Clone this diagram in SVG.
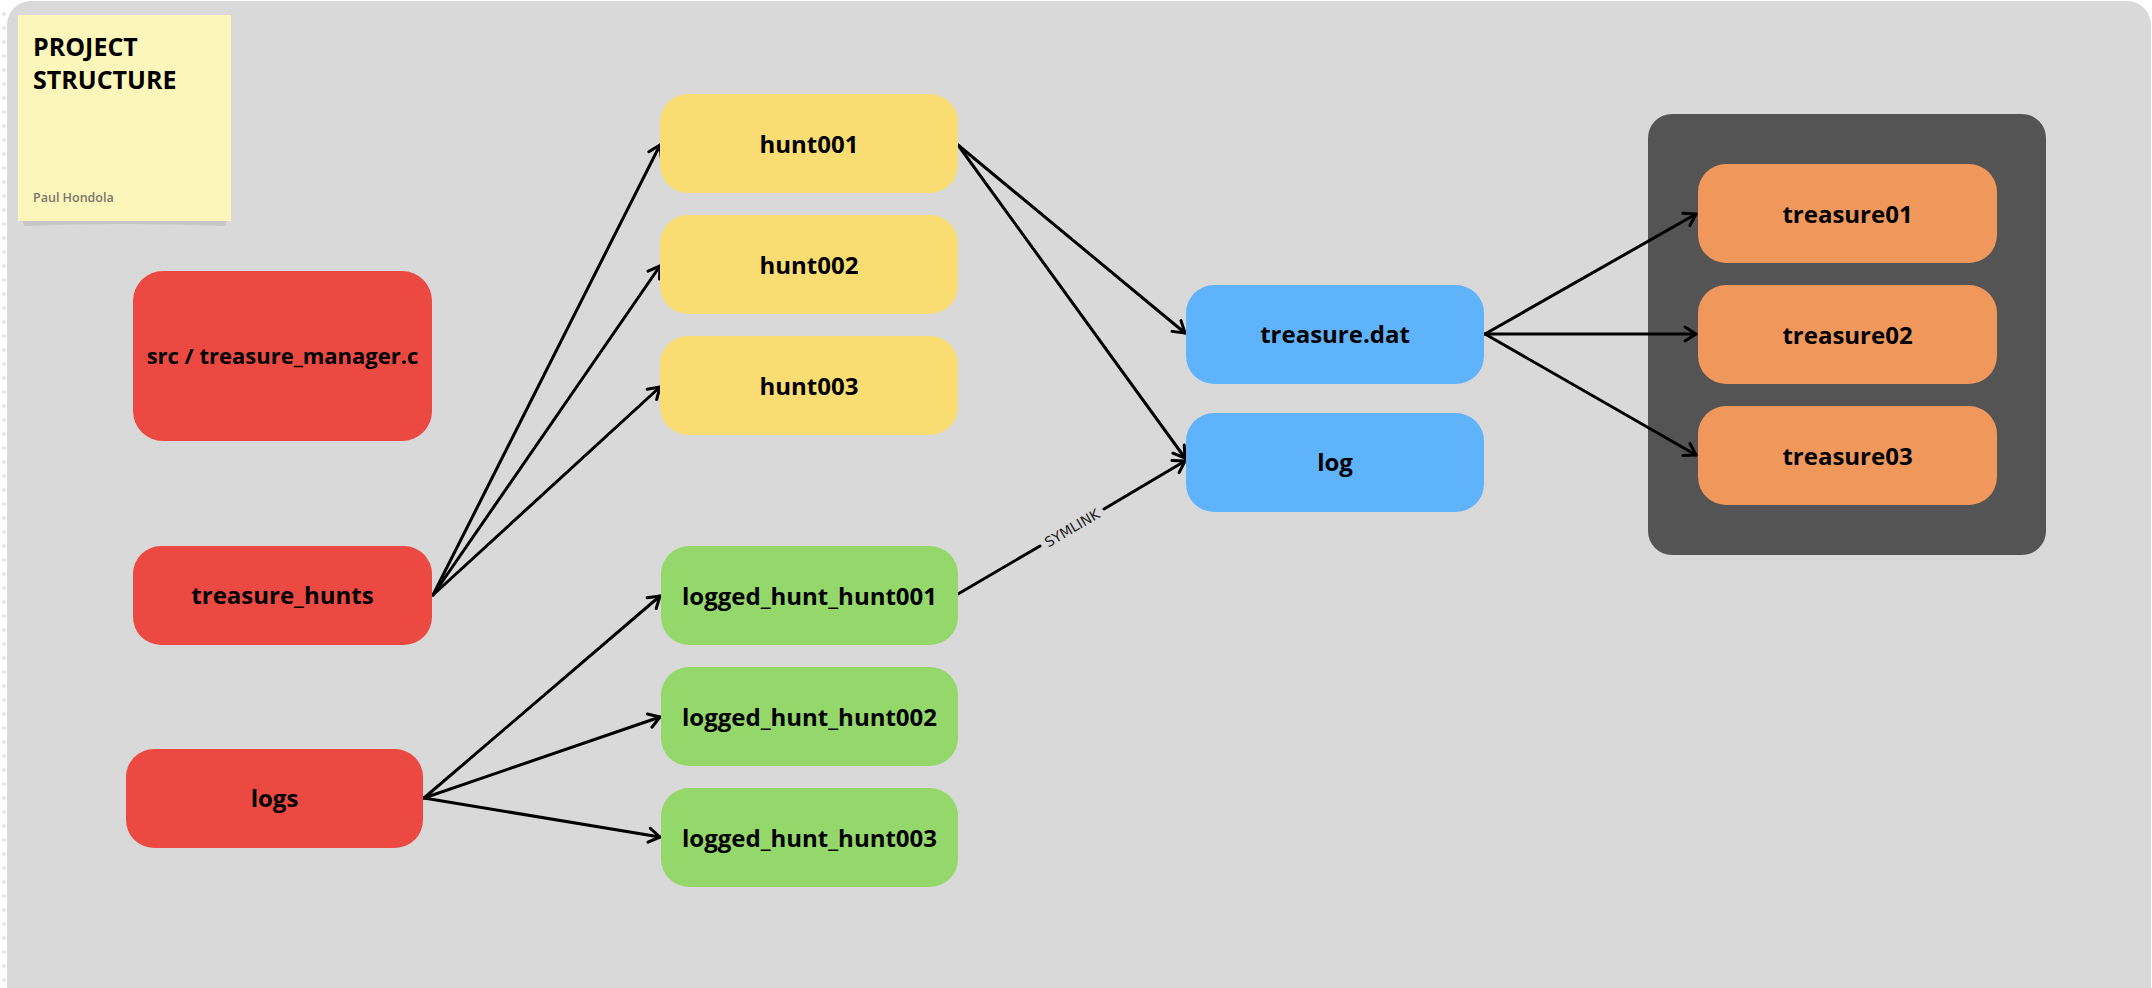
<svg xmlns="http://www.w3.org/2000/svg" width="2152" height="988" viewBox="0 0 2152 988">
  <style>
    .lbl { font-family: "Open Sans", "Liberation Sans", sans-serif; font-weight: 700; font-size: 24px; fill: #000; text-anchor: middle; }
    .lbl.wide { font-size: 22px; }
    .red { fill: #ec4942; }
    .yellow { fill: #f9dd72; }
    .green { fill: #94d86b; }
    .blue { fill: #5eb3fb; }
    .orange { fill: #f0975b; }
    .edge { fill: none; stroke: #000; stroke-width: 3; stroke-linecap: round; }
    .edge-arrow { marker-end: url(#arrow); }
  </style>
  <defs>
    <marker id="arrow" viewBox="-14 -10 17 20" refX="0" refY="0" markerWidth="17" markerHeight="20" markerUnits="userSpaceOnUse" orient="auto">
      <path d="M-11,-7 L0,0 L-11,7" fill="none" stroke="#000" stroke-width="3" stroke-linecap="round" stroke-linejoin="round"/>
    </marker>
  </defs>

  <!-- page -->
  <rect x="0" y="0" width="2152" height="988" fill="#ffffff"/>
  <line x1="4" y1="14" x2="4" y2="988" stroke="#e6e6ec" stroke-width="4" stroke-linecap="round" stroke-dasharray="0 14"/>
  <rect x="7" y="1" width="2144" height="1010" rx="24" fill="#d9d9d9"/>

  <!-- sticky note -->
  <g id="note">
    <path d="M22,218 L227,218 L225,226 Q124,222 24,226 Z" fill="#c6c6c6"/>
    <rect x="18" y="15" width="213" height="206" fill="#fdf6ba"/>
    <text x="33" y="56" font-family="'Open Sans', 'Liberation Sans', sans-serif" font-weight="700" font-size="25" fill="#000">PROJECT</text>
    <text x="33" y="89" font-family="'Open Sans', 'Liberation Sans', sans-serif" font-weight="700" font-size="25" fill="#000">STRUCTURE</text>
    <text x="33" y="202" font-family="'Open Sans', 'Liberation Sans', sans-serif" font-weight="600" font-size="12.5" fill="#77776e">Paul Hondola</text>
  </g>

  <!-- folder holding the treasure records -->
  <g id="treasure-group">
    <rect x="1648" y="114" width="398" height="441" rx="24" fill="#545454"/>
  </g>

  <!-- connectors -->
  <g id="connectors">
    <line class="edge edge-arrow" x1="433" y1="595" x2="660" y2="145"/>
    <line class="edge edge-arrow" x1="433" y1="595" x2="660" y2="266"/>
    <line class="edge edge-arrow" x1="433" y1="595" x2="660" y2="387"/>
    <line class="edge edge-arrow" x1="424" y1="798" x2="660" y2="596"/>
    <line class="edge edge-arrow" x1="424" y1="798" x2="660" y2="717"/>
    <line class="edge edge-arrow" x1="424" y1="798" x2="660" y2="837"/>
    <line class="edge edge-arrow" x1="958" y1="145" x2="1185" y2="333"/>
    <line class="edge edge-arrow" x1="958" y1="145" x2="1185" y2="458"/>
    <line class="edge" x1="958" y1="594" x2="1040" y2="546"/>
    <line class="edge edge-arrow" x1="1104" y1="509" x2="1185" y2="461"/>
    <text x="1072" y="528" transform="rotate(-30.3 1072 528)" font-family="'DejaVu Sans', sans-serif" font-size="14" fill="#222" text-anchor="middle" dominant-baseline="central">SYMLINK</text>
    <line class="edge edge-arrow" x1="1485" y1="334" x2="1696" y2="214"/>
    <line class="edge edge-arrow" x1="1485" y1="334" x2="1696" y2="334"/>
    <line class="edge edge-arrow" x1="1485" y1="334" x2="1696" y2="455"/>
  </g>

  <!-- top-level entries -->
  <g id="src-treasure-manager">
    <rect class="red" x="133" y="271" width="299" height="170" rx="30"/>
    <text class="lbl wide" x="282.5" y="364">src / treasure_manager.c</text>
  </g>
  <g id="treasure-hunts">
    <rect class="red" x="133" y="546" width="299" height="99" rx="28"/>
    <text class="lbl" x="282.5" y="604">treasure_hunts</text>
  </g>
  <g id="logs">
    <rect class="red" x="126" y="749" width="297" height="99" rx="28"/>
    <text class="lbl" x="274.5" y="807">logs</text>
  </g>

  <!-- hunts -->
  <g id="hunt001">
    <rect class="yellow" x="660" y="94" width="298" height="99" rx="28"/>
    <text class="lbl" x="809" y="153">hunt001</text>
  </g>
  <g id="hunt002">
    <rect class="yellow" x="660" y="215" width="298" height="99" rx="28"/>
    <text class="lbl" x="809" y="274">hunt002</text>
  </g>
  <g id="hunt003">
    <rect class="yellow" x="660" y="336" width="298" height="99" rx="28"/>
    <text class="lbl" x="809" y="395">hunt003</text>
  </g>

  <!-- log links -->
  <g id="logged-hunt-hunt001">
    <rect class="green" x="661" y="546" width="297" height="99" rx="28"/>
    <text class="lbl" x="809.5" y="605">logged_hunt_hunt001</text>
  </g>
  <g id="logged-hunt-hunt002">
    <rect class="green" x="661" y="667" width="297" height="99" rx="28"/>
    <text class="lbl" x="809.5" y="726">logged_hunt_hunt002</text>
  </g>
  <g id="logged-hunt-hunt003">
    <rect class="green" x="661" y="788" width="297" height="99" rx="28"/>
    <text class="lbl" x="809.5" y="847">logged_hunt_hunt003</text>
  </g>

  <!-- hunt contents -->
  <g id="treasure-dat">
    <rect class="blue" x="1186" y="285" width="298" height="99" rx="28"/>
    <text class="lbl" x="1335" y="343">treasure.dat</text>
  </g>
  <g id="log">
    <rect class="blue" x="1186" y="413" width="298" height="99" rx="28"/>
    <text class="lbl" x="1335" y="471">log</text>
  </g>

  <!-- treasure records -->
  <g id="treasure01">
    <rect class="orange" x="1698" y="164" width="299" height="99" rx="28"/>
    <text class="lbl" x="1847.5" y="223">treasure01</text>
  </g>
  <g id="treasure02">
    <rect class="orange" x="1698" y="285" width="299" height="99" rx="28"/>
    <text class="lbl" x="1847.5" y="344">treasure02</text>
  </g>
  <g id="treasure03">
    <rect class="orange" x="1698" y="406" width="299" height="99" rx="28"/>
    <text class="lbl" x="1847.5" y="465">treasure03</text>
  </g>
</svg>
